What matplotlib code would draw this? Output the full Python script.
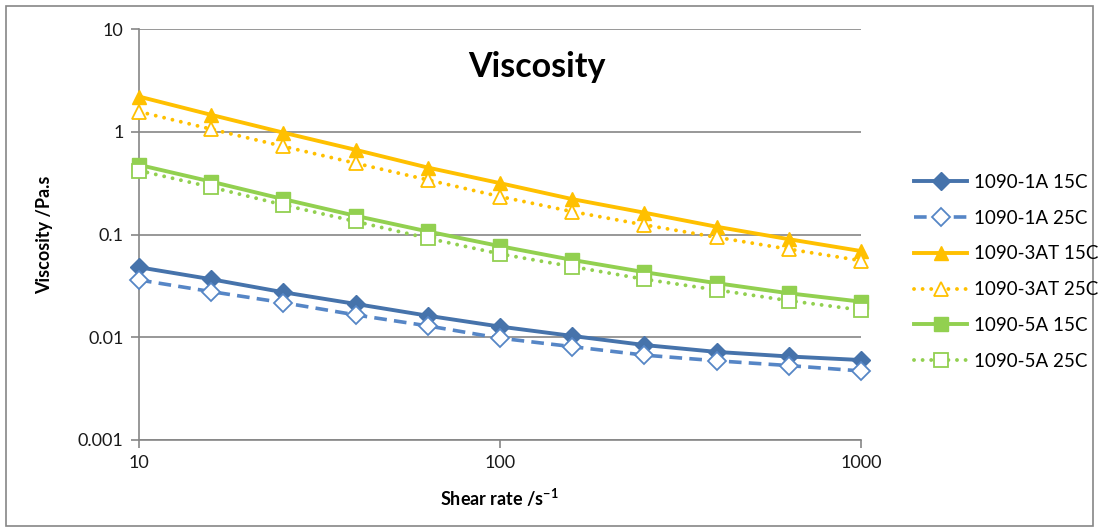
import numpy as np
import matplotlib
matplotlib.use('Agg')
import matplotlib.pyplot as plt
from matplotlib.patches import Rectangle

plt.rcParams['font.family'] = ['Lato', 'DejaVu Sans']
plt.rcParams['mathtext.fontset'] = 'custom'
plt.rcParams['mathtext.rm'] = 'Lato'
plt.rcParams['mathtext.bf'] = 'Lato:bold'

# Shear rate (1/s), 5 points per decade
shear = [10, 15.85, 25.12, 39.81, 63.10, 100, 158.5, 251.2, 398.1, 631.0, 1000]

visc_1A_15 = [0.048, 0.0367, 0.0274, 0.0211, 0.0162, 0.0127, 0.0103, 0.0084, 0.0072, 0.0065, 0.0060]
visc_1A_25 = [0.0361, 0.0278, 0.0217, 0.0165, 0.0129, 0.0098, 0.0081, 0.0067, 0.0059, 0.0053, 0.0047]
visc_3AT_15 = [2.20, 1.46, 0.98, 0.667, 0.448, 0.316, 0.221, 0.163, 0.119, 0.090, 0.069]
visc_3AT_25 = [1.57, 1.06, 0.72, 0.494, 0.34, 0.234, 0.167, 0.124, 0.094, 0.072, 0.0557]
visc_5A_15 = [0.476, 0.327, 0.221, 0.152, 0.107, 0.077, 0.0566, 0.043, 0.0336, 0.0268, 0.0222]
visc_5A_25 = [0.419, 0.289, 0.194, 0.134, 0.092, 0.0647, 0.0487, 0.0367, 0.0289, 0.0227, 0.0184]

etiquetas = ['1090-1A 15C', '1090-1A 25C', '1090-3AT 15C', '1090-3AT 25C', '1090-5A 15C', '1090-5A 25C']

azul = '#4673AB'
azul2 = '#5686C6'
amarillo = '#FFC000'
verde = '#92D050'
gris = '#868686'

fig = plt.figure(figsize=(10.99, 5.32), dpi=100)
ax = fig.add_axes([139/1099, 1-440/532, (861-139)/1099, (440-29)/532])

punteado = (0, (0.01, 2.2))

ax.plot(shear, visc_1A_15, color=azul, lw=2.8, marker='D', ms=9, label=etiquetas[0], zorder=3, clip_on=False)
ax.plot(shear, visc_1A_25, color=azul2, lw=2.6, ls=(0, (3.5, 2)), marker='D', ms=9,
        mfc='white', mec=azul2, mew=1.3, label=etiquetas[1], zorder=3, clip_on=False)
ax.plot(shear, visc_3AT_15, color=amarillo, lw=2.8, marker='^', ms=10.5, label=etiquetas[2], zorder=3, clip_on=False)
ax.plot(shear, visc_3AT_25, color=amarillo, lw=2.8, ls=punteado, dash_capstyle='round', marker='^', ms=10.5,
        mfc='white', mec=amarillo, mew=1.3, label=etiquetas[3], zorder=3, clip_on=False)
ax.plot(shear, visc_5A_15, color=verde, lw=2.8, marker='s', ms=10, label=etiquetas[4], zorder=3, clip_on=False)
ax.plot(shear, visc_5A_25, color=verde, lw=2.8, ls=punteado, dash_capstyle='round', marker='s', ms=10,
        mfc='white', mec=verde, mew=1.3, label=etiquetas[5], zorder=3, clip_on=False)

ax.set_xscale('log')
ax.set_yscale('log')
ax.set_xlim(10, 1000)
ax.set_ylim(0.001, 10)
ax.set_xticks([10, 100, 1000])
ax.set_xticklabels(['10', '100', '1000'])
ax.set_yticks([0.001, 0.01, 0.1, 1, 10])
ax.set_yticklabels(['0.001', '0.01', '0.1', '1', '10'])
ax.minorticks_off()
ax.yaxis.grid(True, color=gris, lw=1.2)
ax.set_axisbelow(True)
for lado in ['top', 'right']:
    ax.spines[lado].set_visible(False)
for lado in ['left', 'bottom']:
    ax.spines[lado].set_color(gris)
    ax.spines[lado].set_linewidth(1.2)
ax.tick_params(axis='both', direction='out', length=6, width=1.2, color=gris, labelsize=13, labelcolor='#1a1a1a', pad=5)

fig.text(537/1099, 1-67/532, 'Viscosity', ha='center', va='center', fontsize=24.5, fontweight='bold')

fig.text(499/1099, 1-498/532, r'Shear rate /s$^{\mathbf{-1}}$', ha='center', va='center', fontsize=13, fontweight='bold')
fig.text(45/1099, 1-235/532, 'Viscosity /Pa.s', ha='center', va='center', rotation=90, fontsize=13, fontweight='bold')

fig.legend(loc='upper left', bbox_to_anchor=(897/1099, 1-157/532), frameon=False, fontsize=13.5,
           handlelength=2.85, handletextpad=0.37, labelspacing=1.0)

fig.patches.append(Rectangle((6/1099, 6/532), 1087/1099, 520/532, transform=fig.transFigure,
                             fill=False, edgecolor=gris, lw=1.2))

fig.savefig('out.png', dpi=100)
